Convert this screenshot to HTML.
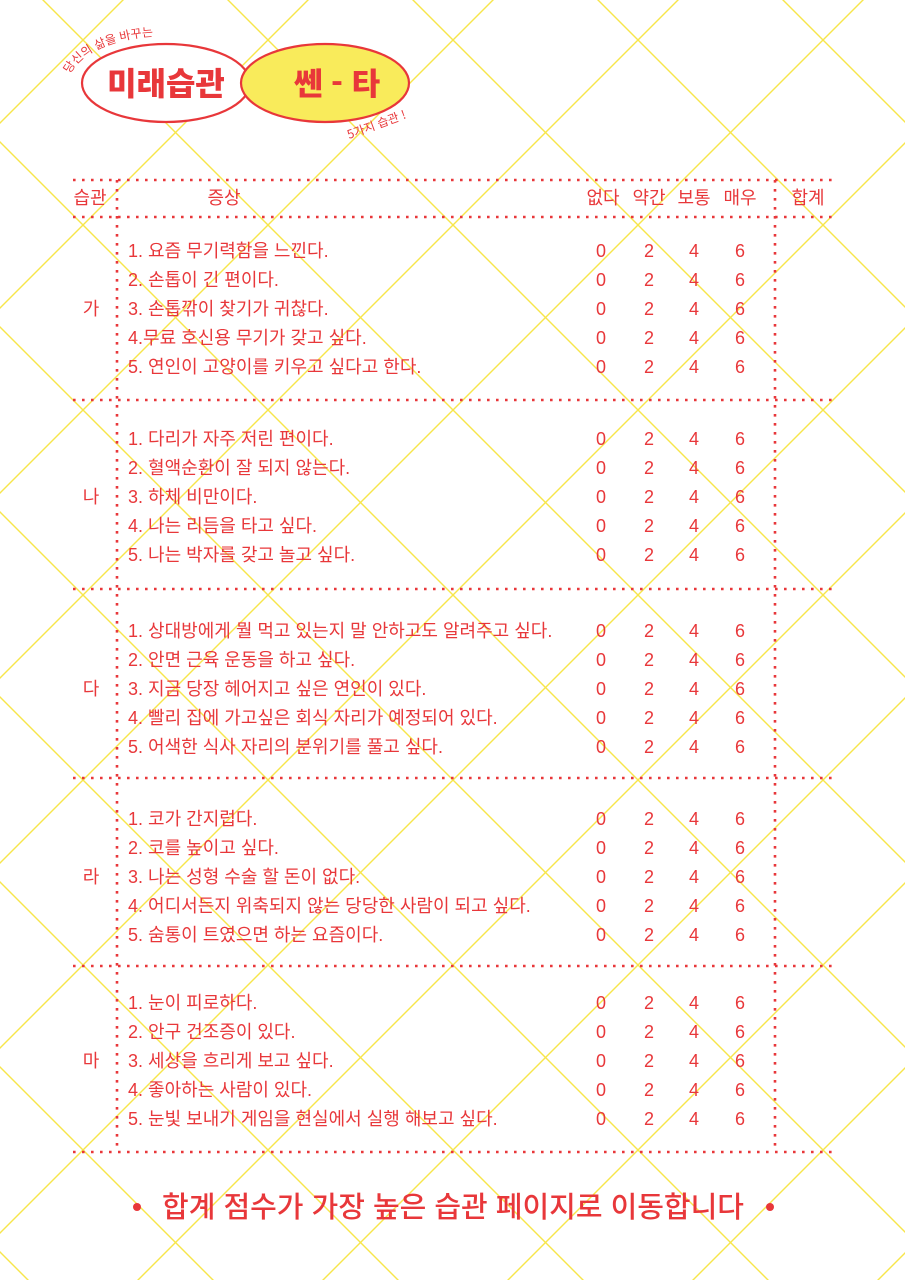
<!DOCTYPE html>
<html lang="ko"><head><meta charset="utf-8">
<style>
html,body{margin:0;padding:0;background:#fff;width:905px;height:1280px;overflow:hidden;}
#page{position:relative;width:905px;height:1280px;overflow:hidden;background:#fff;font-family:"Liberation Sans","Noto Sans CJK KR",sans-serif;color:#e8373a;}
svg{position:absolute;left:0;top:0;}
.t{position:absolute;font-size:18px;line-height:20px;white-space:nowrap;color:#e8373a;}
.c{transform:translateX(-50%);}
</style></head>
<body>
<div id="page">
<svg id="bg" width="905" height="1280"></svg>
<svg id="grid" width="905" height="1280">
 <g stroke="#e8373a" stroke-width="2.6" stroke-dasharray="2.6 6.4" stroke-linecap="butt">
  <line x1="73" y1="180" x2="835" y2="180"/>
  <line x1="73" y1="217" x2="835" y2="217"/>
  <line x1="73" y1="400" x2="835" y2="400"/>
  <line x1="73" y1="589" x2="835" y2="589"/>
  <line x1="73" y1="778" x2="835" y2="778"/>
  <line x1="73" y1="966" x2="835" y2="966"/>
  <line x1="73" y1="1152" x2="835" y2="1152"/>
  <line x1="117" y1="180" x2="117" y2="1152"/>
  <line x1="775" y1="180" x2="775" y2="1152"/>
 </g>
</svg>
<svg width="905" height="160">
 <defs><path id="arc1" d="M70,74 A95,50 0 0 1 162,36"/></defs>
 <ellipse cx="166" cy="83" rx="84" ry="39" fill="#fff" stroke="#e8373a" stroke-width="2.2"/>
 <ellipse cx="325" cy="83" rx="84" ry="39" fill="#f9eb5b" stroke="#e8373a" stroke-width="2.2"/>
 <text x="166" y="95" text-anchor="middle" font-size="32" font-weight="900" fill="#e8373a" font-family="'Noto Sans CJK KR',sans-serif">미래습관</text>
 <text x="337" y="95" text-anchor="middle" font-size="31" font-weight="900" fill="#e8373a" font-family="'Noto Sans CJK KR',sans-serif">쎈 - 타</text>
 <text font-size="12" fill="#e8373a" font-family="'Noto Sans CJK KR',sans-serif"><textPath href="#arc1">당신의 삶을 바꾸는</textPath></text>
 <text x="349" y="139" font-size="12" fill="#e8373a" transform="rotate(-20 349 139)" font-family="'Noto Sans CJK KR',sans-serif">5가지 습관 !</text>
</svg>
<div class="t c" style="left:90px;top:188px">습관</div>
<div class="t c" style="left:224px;top:188px">증상</div>
<div class="t c" style="left:603px;top:188px">없다</div>
<div class="t c" style="left:649px;top:188px">약간</div>
<div class="t c" style="left:694px;top:188px">보통</div>
<div class="t c" style="left:740px;top:188px">매우</div>
<div class="t c" style="left:808px;top:188px">합계</div>
<div id="rows"></div>
<div class="t c" style="left:453px;top:1190px;font-size:29px;line-height:36px;font-weight:500">합계 점수가 가장 높은 습관 페이지로 이동합니다</div>
<div style="position:absolute;left:133px;top:1203px;width:8px;height:8px;border-radius:50%;background:#e8373a"></div>
<div style="position:absolute;left:766px;top:1203px;width:8px;height:8px;border-radius:50%;background:#e8373a"></div>
</div>
<script>
const ns="http://www.w3.org/2000/svg";
const bg=document.getElementById('bg');
for(let k=-8;k<14;k++){
  let c=-43+185*k;
  let l=document.createElementNS(ns,'line');
  l.setAttribute('x1',-300);l.setAttribute('y1',-300+c);l.setAttribute('x2',1300);l.setAttribute('y2',1300+c);
  l.setAttribute('stroke','#f7e64a');l.setAttribute('stroke-width','1.4');
  bg.appendChild(l);
  let d=123+185*k;
  let m=document.createElementNS(ns,'line');
  m.setAttribute('x1',-300);m.setAttribute('y1',300+d);m.setAttribute('x2',1300);m.setAttribute('y2',-1300+d);
  m.setAttribute('stroke','#f7e64a');m.setAttribute('stroke-width','1.4');
  bg.appendChild(m);
}
const groups=['가','나','다','라','마'];
const groupTops=[250,438,630,818,1002];
const items=[
 ['1. 요즘 무기력함을 느낀다.','2. 손톱이 긴 편이다.','3. 손톱깎이 찾기가 귀찮다.','4.무료 호신용 무기가 갖고 싶다.','5. 연인이 고양이를 키우고 싶다고 한다.'],
 ['1. 다리가 자주 저린 편이다.','2. 혈액순환이 잘 되지 않는다.','3. 하체 비만이다.','4. 나는 리듬을 타고 싶다.','5. 나는 박자를 갖고 놀고 싶다.'],
 ['1. 상대방에게 뭘 먹고 있는지 말 안하고도 알려주고 싶다.','2. 안면 근육 운동을 하고 싶다.','3. 지금 당장 헤어지고 싶은 연인이 있다.','4. 빨리 집에 가고싶은 회식 자리가 예정되어 있다.','5. 어색한 식사 자리의 분위기를 풀고 싶다.'],
 ['1. 코가 간지럽다.','2. 코를 높이고 싶다.','3. 나는 성형 수술 할 돈이 없다.','4. 어디서든지 위축되지 않는 당당한 사람이 되고 싶다.','5. 숨통이 트였으면 하는 요즘이다.'],
 ['1. 눈이 피로하다.','2. 안구 건조증이 있다.','3. 세상을 흐리게 보고 싶다.','4. 좋아하는 사람이 있다.','5. 눈빛 보내기 게임을 현실에서 실행 해보고 싶다.']
];
const scores=['0','2','4','6'];
const scoreX=[601,649,694,740];
const rows=document.getElementById('rows');
function mk(txt,x,y,center){
  const d=document.createElement('div');
  d.className='t'+(center?' c':'');
  d.style.left=x+'px';d.style.top=(y-9)+'px';
  d.textContent=txt;
  rows.appendChild(d);
  return d;
}
groups.forEach((g,gi)=>{
  const top=groupTops[gi];
  const gl=mk(g,91,top+58,true);
  
  
  items[gi].forEach((it,ii)=>{
    const y=top+ii*29;
    const s=mk(it,128,y,false);
    
    
    scores.forEach((v,vi)=>{
      const sc=mk(v,scoreX[vi],y,true);
      
      
    });
  });
});
</script>
</body></html>
